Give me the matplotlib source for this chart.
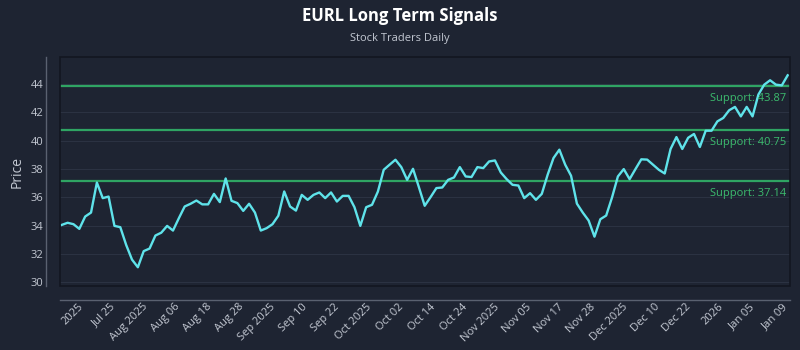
import numpy as np
import matplotlib.pyplot as plt
from matplotlib.patches import Rectangle

# daily closes, oldest first
prices = [
    34.05, 34.2, 34.1, 33.77, 34.64, 34.92, 37.04, 35.94, 36.05, 33.98,
    33.89, 32.64, 31.6, 31.06, 32.2, 32.38, 33.3, 33.5,
    33.98, 33.65, 34.52, 35.35, 35.54, 35.77, 35.5, 35.5, 36.24, 35.66,
    37.33, 35.75, 35.59, 35.04, 35.54, 34.92, 33.65, 33.82,
    34.1, 34.7, 36.41, 35.35, 35.06, 36.17, 35.82, 36.17, 36.34, 35.94,
    36.34, 35.7, 36.1, 36.1, 35.3, 33.98, 35.3, 35.47,
    36.4, 37.94, 38.3, 38.65, 38.13, 37.23, 38.01, 36.72, 35.4, 36.01,
    36.65, 36.69, 37.23, 37.4, 38.13, 37.47, 37.43, 38.13,
    38.06, 38.53, 38.6, 37.75, 37.28, 36.88, 36.83, 35.94, 36.29, 35.82,
    36.24, 37.59, 38.77, 39.36, 38.3, 37.52, 35.55, 34.92, 34.36, 33.22,
    34.45, 34.71, 35.99, 37.47, 37.99, 37.28, 37.99, 38.68, 38.66, 38.3,
    37.94, 37.68, 39.41, 40.25, 39.41, 40.2, 40.47, 39.55, 40.7, 40.7,
    41.36, 41.6, 42.14, 42.38, 41.71, 42.38, 41.71, 43.25, 43.95, 44.26,
    43.95, 43.9, 44.61,
]
supports = [43.87, 40.75, 37.14]
tick_labels = [
    "2025", "Jul 25", "Aug 2025", "Aug 06", "Aug 18", "Aug 28", "Sep 2025",
    "Sep 10", "Sep 22", "Oct 2025", "Oct 02", "Oct 14", "Oct 24", "Nov 2025",
    "Nov 05", "Nov 17", "Nov 28", "Dec 2025", "Dec 10", "Dec 22", "2026",
    "Jan 05", "Jan 09",
]

BG = "#1e2432"
TEXT = "#c3c8d2"
GREEN = "#2fa463"

plt.rcParams["font.family"] = ["Open Sans", "DejaVu Sans"]

fig = plt.figure(figsize=(8, 3.5), dpi=100, facecolor=BG)
ax = fig.add_axes([0.075, 0.183, 0.9125, 0.654], facecolor=BG)

# offset axis lines (moving a spine resets the ticks, so do this first)
for side in ["top", "right"]:
    ax.spines[side].set_visible(False)
for side in ["left", "bottom"]:
    ax.spines[side].set_position(("outward", 10))
    ax.spines[side].set_color("#5a6170")
    ax.spines[side].set_linewidth(1.0)

x = np.arange(len(prices))
ax.plot(x, prices, color="#5fe3ea", lw=1.7, zorder=4)

for s in supports:
    ax.axhline(s, color=GREEN, lw=1.6, zorder=3)
    ax.annotate(f"Support: {s:.2f}", xy=(1, s), xycoords=("axes fraction", "data"),
                xytext=(-3, -5), textcoords="offset points",
                ha="right", va="top", color="#3cbc6e", fontsize=8, zorder=5)

ax.set_xlim(-0.3, 124.4)
ax.set_ylim(29.74, 45.9)
ax.set_yticks(np.arange(30, 45, 2))
ax.set_xticks(np.linspace(2.8, 123.0, len(tick_labels)))
ax.set_xticklabels(tick_labels)
ax.set_ylabel("Price", color=TEXT, fontsize=10, labelpad=4)

ax.grid(axis="y", color="#2b3242", lw=0.8, zorder=0)
ax.tick_params(length=0, colors=TEXT, labelsize=8)
ax.tick_params(axis="x", pad=1)
ax.tick_params(axis="y", pad=2)
for lab in ax.get_xticklabels():
    lab.set_rotation(45)
    lab.set_ha("right")
    lab.set_rotation_mode("anchor")

# dark frame around the plotting area
ax.add_patch(Rectangle((0, 0), 1, 1, transform=ax.transAxes, fill=False,
                       edgecolor="#121620", lw=1.2, zorder=6, clip_on=False))

fig.text(0.5, 0.955, "EURL Long Term Signals", ha="center", va="center",
         color="white", fontsize=12, fontweight="bold")
fig.text(0.5, 0.89, "Stock Traders Daily", ha="center", va="center",
         color=TEXT, fontsize=8)

fig.savefig("out.png", dpi=100, facecolor=BG)
